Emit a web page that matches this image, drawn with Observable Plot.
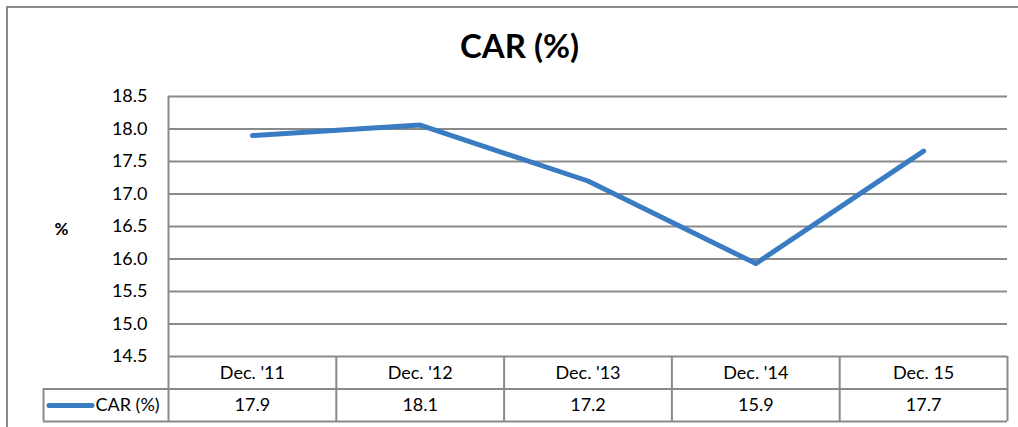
<!DOCTYPE html>
<html>
<head>
<meta charset="utf-8">
<script src="https://cdn.jsdelivr.net/npm/d3@7"></script>
<script src="https://cdn.jsdelivr.net/npm/@observablehq/plot@0.6"></script>
<style>
  html, body { margin: 0; padding: 0; background: #fff; }
  #wrap { position: relative; width: 1018px; height: 427px; overflow: hidden; }
  #border { position: absolute; left: 6px; top: 6px; right: -4px; bottom: -4px;
            border-left: 2px solid #8a8a8a; border-top: 2px solid #8a8a8a; pointer-events: none; }
  svg { font-family: Lato, "Open Sans", sans-serif; }
</style>
</head>
<body>
<div id="wrap"><div id="border"></div></div>
<script>
// ---- data ----
const chartTitle = "CAR (%)";
const seriesName = "CAR (%)";
const yAxisLabel = "%";
const categories = ["Dec. '11", "Dec. '12", "Dec. '13", "Dec. '14", "Dec. 15"];
const carValues = [17.9, 18.06, 17.2, 15.93, 17.66];
const yTicks = [14.5, 15.0, 15.5, 16.0, 16.5, 17.0, 17.5, 18.0, 18.5];

// ---- layout ----
const W = 1018, H = 427;
const mLeft = 168, mRight = 11, mTop = 96, mBottom = 71;
const colW = (W - mLeft - mRight) / categories.length;
const pxPerUnit = (H - mBottom - mTop) / (yTicks[yTicks.length - 1] - yTicks[0]);
const xAt = px => -0.5 + (px - mLeft) / colW;           // pixel -> x data
const yAt = px => yTicks[0] - (px - (H - mBottom)) / pxPerUnit; // pixel -> y data

const data = categories.map((c, i) => ({i, cat: c, v: carValues[i], label: carValues[i].toFixed(1)}));
const bounds = d3.range(categories.length + 1).map(k => k - 0.5);

const grid = "#8a8a8a";
const blue = "#3a7cc1";
const rowTop = H - mBottom, rowMid = 388.5, rowBot = 421;
const legendLeft = xAt(43);

const chart = Plot.plot({
  width: W, height: H,
  marginLeft: mLeft, marginRight: mRight, marginTop: mTop, marginBottom: mBottom,
  x: {type: "linear", domain: [-0.5, categories.length - 0.5], axis: null},
  y: {domain: [yTicks[0], yTicks[yTicks.length - 1]], axis: null},
  style: {fontFamily: "Lato, 'Open Sans', sans-serif", fontSize: "18px", color: "#000", background: "#fff", overflow: "visible"},
  marks: [
    // gridlines
    Plot.ruleY(yTicks, {stroke: grid, strokeWidth: 2, strokeOpacity: 1}),
    // y axis line (extends through table)
    Plot.ruleX([-0.5], {y1: yTicks[yTicks.length - 1], y2: yAt(rowBot), stroke: grid, strokeWidth: 2}),
    // table column lines
    Plot.ruleX(bounds.slice(1), {y1: yAt(rowTop), y2: yAt(rowBot), stroke: grid, strokeWidth: 2}),
    // table horizontal lines
    Plot.ruleY([yAt(rowMid), yAt(rowBot)], {x1: legendLeft, x2: categories.length - 0.5, stroke: grid, strokeWidth: 2}),
    // legend cell left edge
    Plot.ruleX([legendLeft], {y1: yAt(rowMid), y2: yAt(rowBot), stroke: grid, strokeWidth: 2}),
    // y axis tick labels
    Plot.axisY({ticks: yTicks, tickFormat: d => d.toFixed(1), tickSize: 0, tickPadding: 21, label: null, fontSize: 18, fill: "#000"}),
    // series line
    Plot.line(data, {x: "i", y: "v", stroke: blue, strokeWidth: 5, strokeLinejoin: "round", strokeLinecap: "round"}),
    // table: category row
    Plot.text(data, {x: "i", y: () => yAt(372.5), text: "cat", fontSize: 18, fill: "#000"}),
    // table: value row
    Plot.text(data, {x: "i", y: () => yAt(405), text: "label", fontSize: 18, fill: "#000"}),
    // legend key
    Plot.ruleY([yAt(405)], {x1: xAt(49), x2: xAt(92), stroke: blue, strokeWidth: 5, strokeLinecap: "round"}),
    Plot.text([seriesName], {x: xAt(95), y: yAt(405), text: d => d, textAnchor: "start", fontSize: 18, fill: "#000"}),
    // y axis title
    Plot.text([yAxisLabel], {x: xAt(61), y: yAt(229), text: d => d, fontSize: 17, fontWeight: "bold", fill: "#000"}),
    // chart title
    Plot.text([chartTitle], {x: xAt(519), y: yAt(47), text: d => d, fontSize: 33, fontWeight: "bold", fill: "#000"})
  ]
});
document.getElementById("wrap").insertBefore(chart, document.getElementById("border"));
</script>
</body>
</html>
